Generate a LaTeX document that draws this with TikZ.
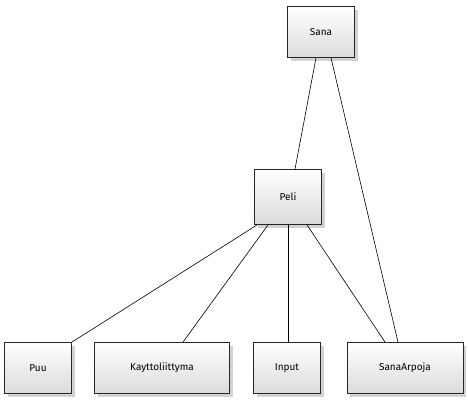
\documentclass[tikz,border=0pt]{standalone}
\usepackage{fontspec}
\setmainfont{Fira Sans}
\usetikzlibrary{shadows}
\begin{document}
\begin{tikzpicture}[x=1pt,y=-1pt,
  cls/.style={draw=black!85, line width=0.8pt, top color=white, bottom color=black!14,
    drop shadow={shadow xshift=3pt, shadow yshift=-3pt, fill=black!35, opacity=0.5},
    minimum height=51pt, inner sep=0pt, font=\fontsize{10}{12}\selectfont},
  link/.style={draw=black, line width=0.6pt}]
\useasboundingbox (0,0) rectangle (468,400);
\node[cls, minimum width=67pt] (sana) at (321,32) {Sana};
\node[cls, minimum width=67pt, minimum height=55pt] (peli) at (288,197) {Peli};
\node[cls, minimum width=67pt] (puu) at (38,368) {Puu};
\node[cls, minimum width=135pt] (kl) at (162,368) {Kayttoliittyma};
\node[cls, minimum width=67pt] (input) at (287,368) {Input};
\node[cls, minimum width=116pt] (sa) at (405,368) {SanaArpoja};
\draw[link] (sana.south -| 316,0) -- (peli.north -| 295,0);
\draw[link] (sana.south -| 331,0) -- (sa.north -| 398,0);
\draw[link] (peli.south west) ++(3,0) -- (puu.north east);
\draw[link] (peli.south -| 268,0) -- (kl.north -| 183,0);
\draw[link] (peli.south) -- (input.north -| 288,0);
\draw[link] (peli.south -| 307,0) -- (sa.north -| 385,0);
\end{tikzpicture}
\end{document}
